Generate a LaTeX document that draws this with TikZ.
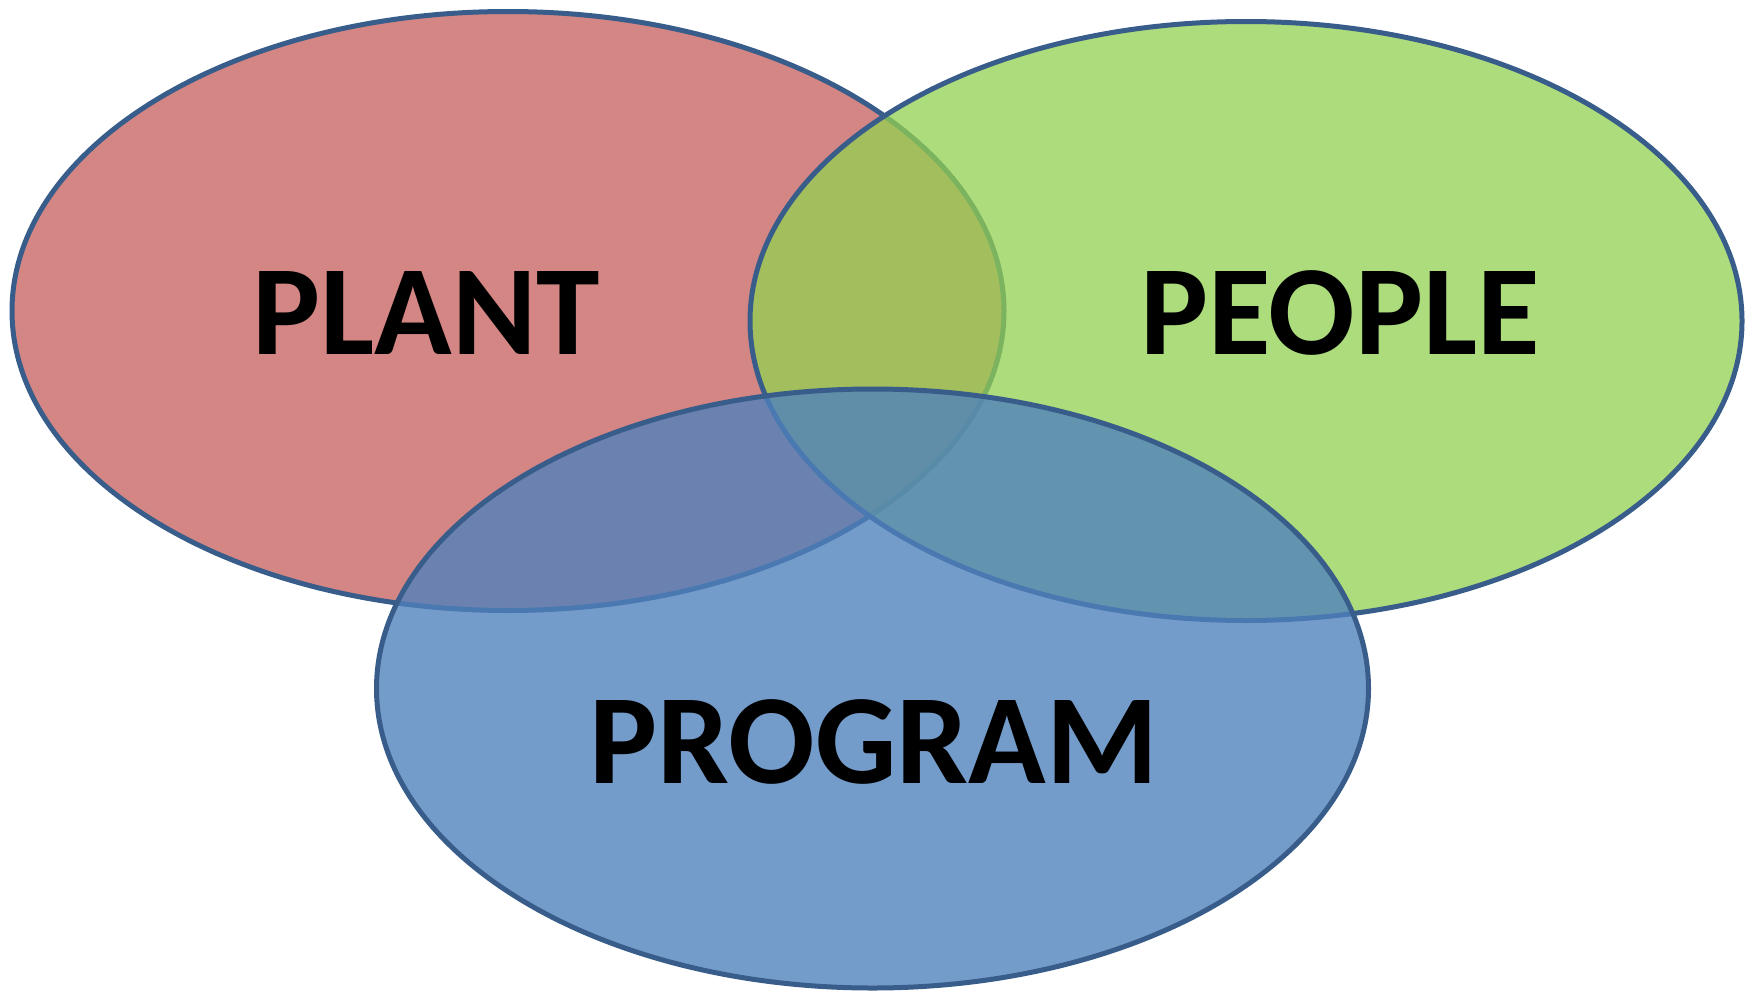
\documentclass[tikz,border=0pt]{standalone}
\usepackage{fontspec}
\setmainfont{Carlito}
\usetikzlibrary{shapes.geometric}
\definecolor{plantred}{HTML}{C0504D}
\definecolor{peoplegreen}{HTML}{92D050}
\definecolor{programblue}{HTML}{4F81BD}
\definecolor{rimblue}{HTML}{385D8A}
\tikzset{
  setring/.style={ellipse, draw=rimblue, line width=5pt, inner sep=0pt,
    minimum width=992pt, minimum height=599pt},
  setlabel/.style={anchor=base, inner sep=0pt, text=black,
    font=\fontsize{128}{140}\selectfont\bfseries}
}
\begin{document}
\begin{tikzpicture}[x=1pt,y=-1pt]
\useasboundingbox (0,0) rectangle (1747,993);
\node[setring, fill=plantred, fill opacity=0.69] (plant) at (508,311) {};
\node[setring, fill=peoplegreen, fill opacity=0.75] (people) at (1246,321) {};
\node[setring, fill=programblue, fill opacity=0.79] (program) at (872.5,688.5) {};
\node[setlabel] (plantlbl) at (426,354) {PLANT};
\node[setlabel] (peoplelbl) at (1340,354) {PEOPLE};
\node[setlabel] (programlbl) at (874,783) {PROGRAM};
\end{tikzpicture}
\end{document}
